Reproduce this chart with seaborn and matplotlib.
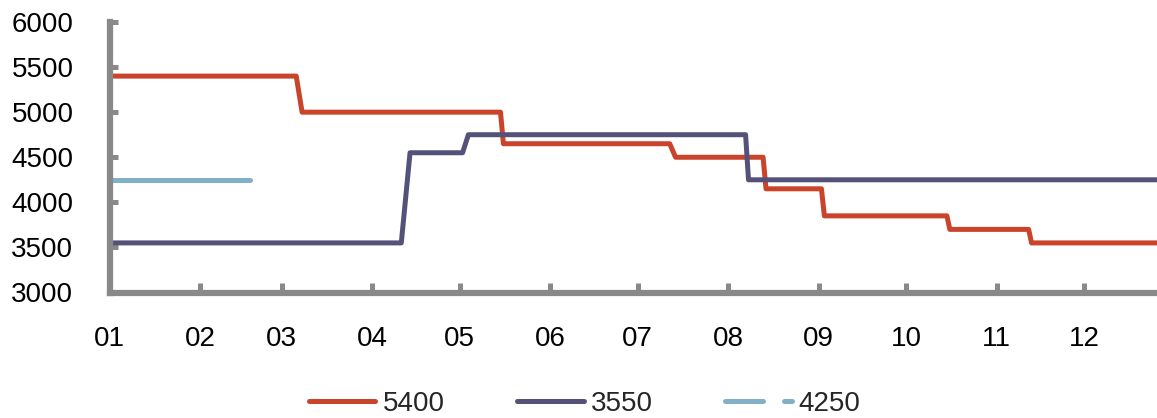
import numpy as np
import pandas as pd
import matplotlib
matplotlib.use("Agg")
import matplotlib.pyplot as plt
from matplotlib.lines import Line2D
import seaborn as sns

# ---------------- data ----------------
series_names = ["5400", "3550", "4250"]

red_dates = ["2013-01-01", "2013-03-06", "2013-03-08", "2013-05-15", "2013-05-16",
             "2013-07-12", "2013-07-14", "2013-08-13", "2013-08-14", "2013-09-02",
             "2013-09-03", "2013-10-15", "2013-10-16", "2013-11-12", "2013-11-13",
             "2013-12-31"]
red_values = [5400, 5400, 5000, 5000, 4650,
              4650, 4500, 4500, 4150, 4150,
              3850, 3850, 3700, 3700, 3550,
              3550]

navy_dates = ["2013-01-01", "2013-04-11", "2013-04-14", "2013-05-02", "2013-05-04",
              "2013-08-07", "2013-08-08", "2013-12-31"]
navy_values = [3550, 3550, 4550, 4550, 4750,
               4750, 4250, 4250]

blue_dates = ["2013-01-01", "2013-02-18"]
blue_values = [4250, 4250]

month_labels = ["01", "02", "03", "04", "05", "06", "07", "08", "09", "10", "11", "12"]
y_ticks = [3000, 3500, 4000, 4500, 5000, 5500, 6000]

colors = {"5400": "#C9442A", "3550": "#55527A", "4250": "#82B1C6"}
axis_gray = "#898989"

# ---------------- build table ----------------
frames = []
for name, d, v in [("5400", red_dates, red_values),
                   ("3550", navy_dates, navy_values),
                   ("4250", blue_dates, blue_values)]:
    frames.append(pd.DataFrame({"date": pd.to_datetime(d), "value": v, "series": name}))
df = pd.concat(frames, ignore_index=True)

# ---------------- style ----------------
sns.set_style("white")
plt.rcParams["font.family"] = ["Liberation Sans", "DejaVu Sans"]

W, H = 1157, 418
fig = plt.figure(figsize=(W / 100, H / 100), dpi=100)
left_px, bottom_px, top_px = 109.5, 292.5, 22.0
ax = fig.add_axes([left_px / W, (H - bottom_px) / H, 1 - left_px / W, (bottom_px - top_px) / H])

sns.lineplot(data=df, x="date", y="value", hue="series", hue_order=series_names,
             palette=colors, linewidth=3.6, legend=False, ax=ax,
             estimator=None, sort=False)
for ln in ax.lines:
    ln.set_solid_capstyle("round")
    ln.set_solid_joinstyle("round")

ax.set_xlim(pd.Timestamp("2013-01-01"), pd.Timestamp("2013-12-26"))
ax.set_ylim(3000, 6000)
month_starts = pd.date_range("2013-01-01", periods=12, freq="MS")
ax.set_xticks(month_starts)
ax.set_xticklabels(month_labels)
ax.set_yticks(y_ticks)
ax.set_yticklabels([str(t) for t in y_ticks])
ax.set_xlabel("")
ax.set_ylabel("")

sns.despine(ax=ax)
for side in ["left", "bottom"]:
    ax.spines[side].set_color(axis_gray)
    ax.spines[side].set_linewidth(4.5)
    ax.spines[side].set_capstyle("projecting")

ax.tick_params(axis="x", bottom=True, direction="in", length=7, width=3.6, color=axis_gray,
               labelsize=20, labelcolor="black", pad=24)
ax.tick_params(axis="y", left=True, direction="in", length=6, width=3.6, color=axis_gray,
               labelsize=20, labelcolor="black", pad=26)

handles = [
    Line2D([], [], color=colors["5400"], lw=3.6, solid_capstyle="round"),
    Line2D([], [], color=colors["3550"], lw=3.6, solid_capstyle="round"),
    Line2D([], [], color=colors["4250"], lw=3.6, dashes=(7.6, 4.2), dash_capstyle="round"),
]
fig.legend(handles, series_names, loc="center", bbox_to_anchor=(584.5 / W, 14 / H),
           ncol=3, frameon=False, fontsize=20, handlelength=2.41, handletextpad=0.25,
           columnspacing=2.6, borderaxespad=0, borderpad=0)

fig.savefig("out.png", dpi=100)
